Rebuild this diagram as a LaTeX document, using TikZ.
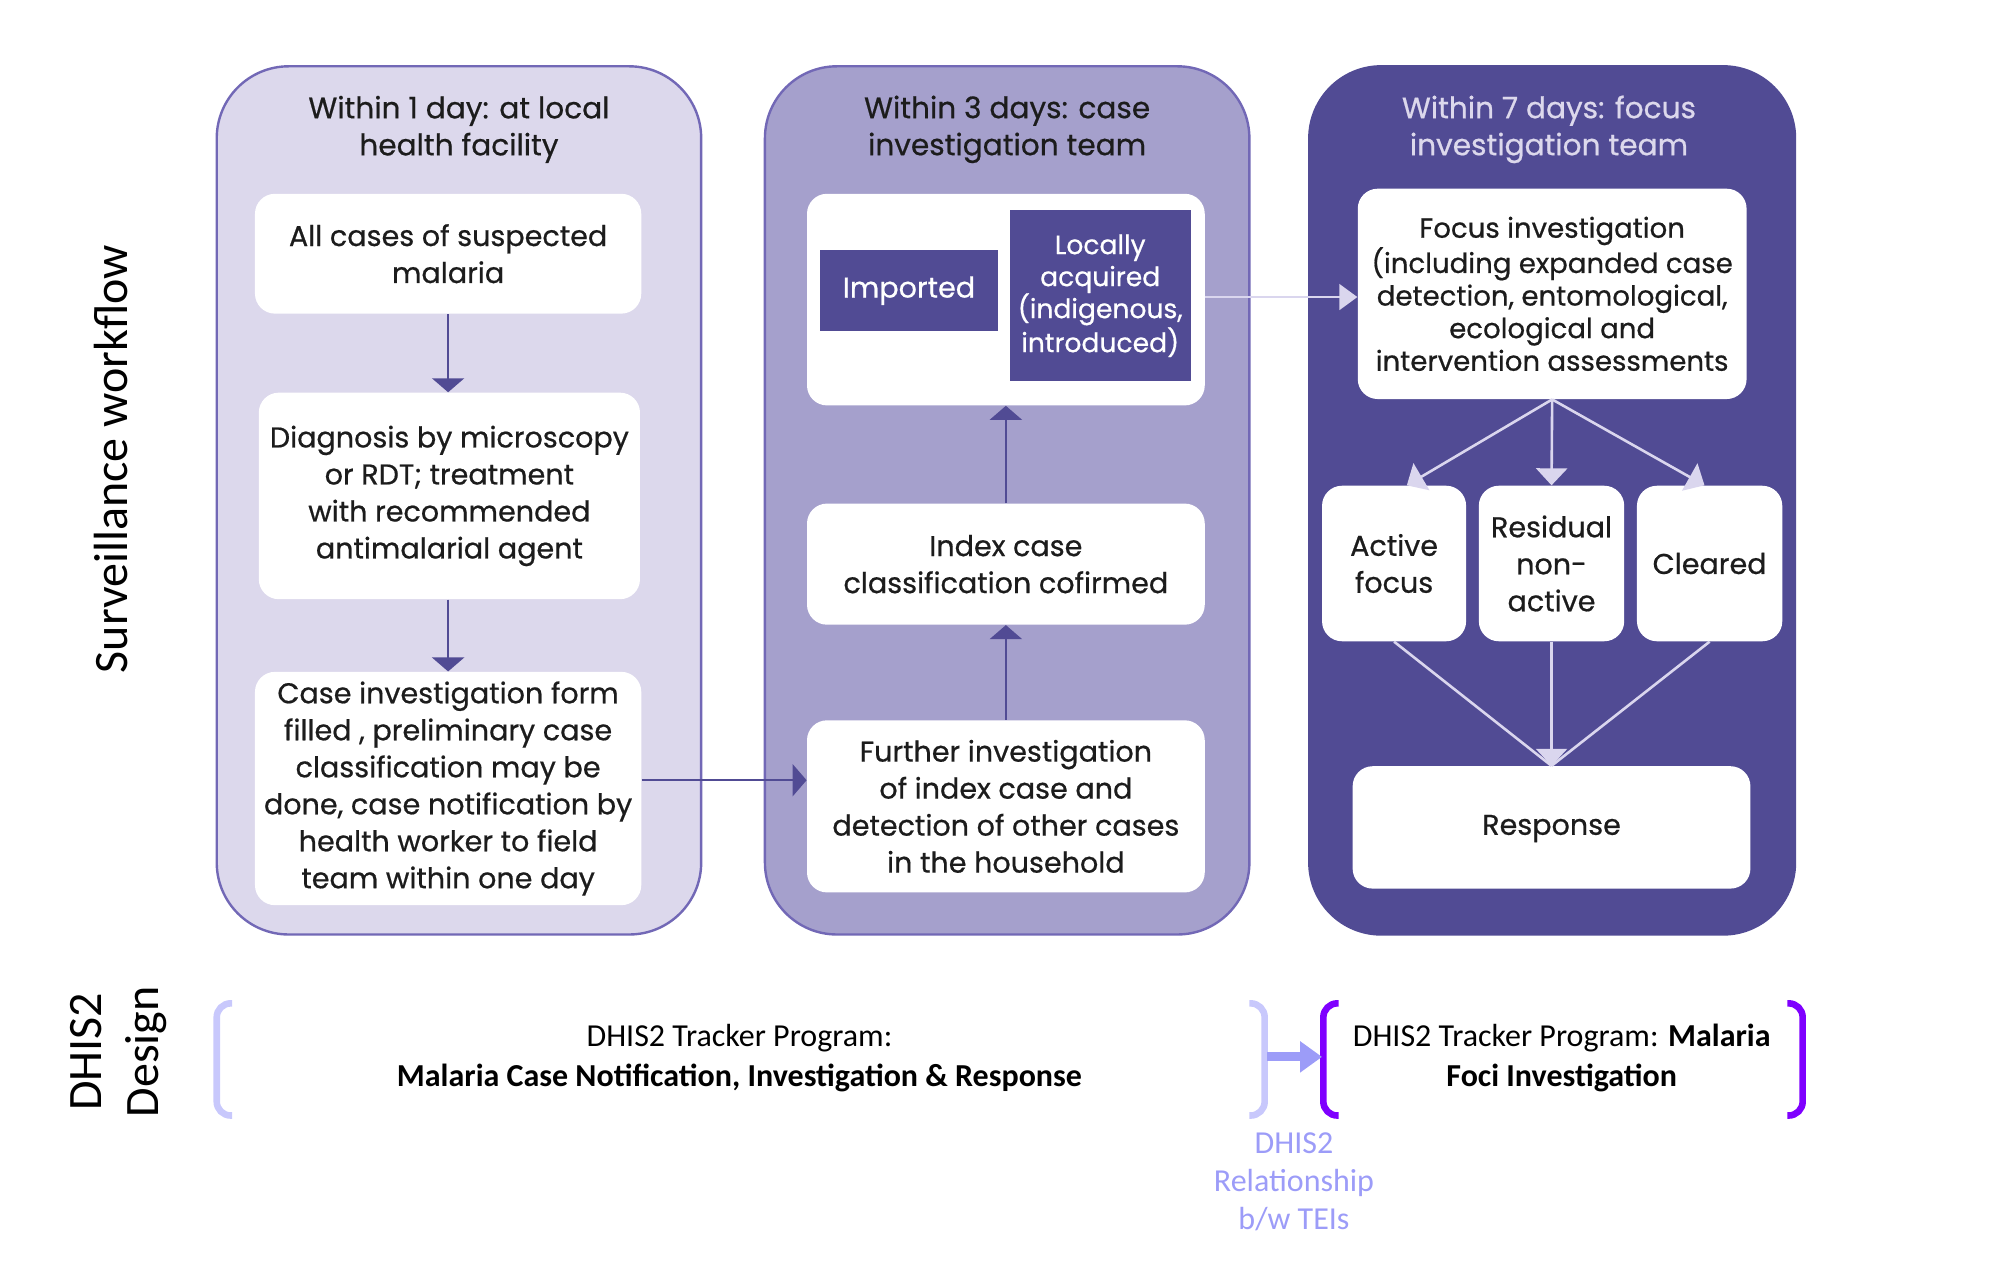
\documentclass[tikz,border=0pt]{standalone}
\usepackage{fontspec}
\setmainfont{Poppins}[FakeBold=0.6]
\newfontfamily\calfont{Carlito}
\usetikzlibrary{arrows.meta}

\def\upx{0.6375pt}
\definecolor{lav}{HTML}{DCD8EC}
\definecolor{midlav}{HTML}{A5A0CC}
\definecolor{deep}{HTML}{514B94}
\definecolor{edge}{HTML}{7268B6}
\definecolor{paleline}{HTML}{DAD6EE}
\definecolor{ink}{HTML}{1C1C1C}
\definecolor{bracketlight}{HTML}{C8C8FC}
\definecolor{bracketdeep}{HTML}{7F00FF}
\definecolor{relblue}{HTML}{9C9CF8}

\begin{document}
\begin{tikzpicture}[x=0.6375pt,y=-0.6375pt,
  panel/.style={rounded corners=36pt, line width=1.2pt, inner sep=0pt},
  ptitle/.style={align=center, inner sep=0pt, font=\fontsize{14.8}{18.5}\selectfont},
  wbox/.style={fill=white, rounded corners=10pt, align=center, text=ink,
    inner sep=0pt, font=\fontsize{14.3}{18.5}\selectfont},
  tag/.style={fill=deep, text=white, align=center, inner sep=0pt},
  flow/.style={draw=deep, line width=1.1pt, -{Triangle[length=7pt,width=16pt]}},
  pale/.style={draw=paleline, line width=1.3pt, -{Triangle[length=8.5pt,width=15.5pt]}},
  paleplain/.style={draw=paleline, line width=1.3pt},
  side/.style={rotate=90, align=center, inner sep=0pt, text=black,
    font=\calfont\fontsize{24}{28.7}\selectfont},
  prog/.style={align=center, inner sep=0pt, text=black,
    font=\calfont\fontsize{16}{19.8}\selectfont},
  bracket/.style={line width=3.3pt, rounded corners=7pt}
]
\useasboundingbox (0,0) rectangle (1568,991);

% ---- three time-frame panels ----
\node[panel, fill=lav, draw=edge, minimum width=380*\upx, minimum height=681*\upx] (p1) at (360,392.5) {};
\node[panel, fill=midlav, draw=edge, minimum width=380*\upx, minimum height=681*\upx] (p2) at (790,392.5) {};
\node[panel, fill=deep, draw=deep, minimum width=381*\upx, minimum height=681*\upx] (p3) at (1217.5,392.5) {};

\node[ptitle, text=ink] (t1) at (360,101.5) {Within 1 day: at local\\health facility};
\node[ptitle, text=ink] (t2) at (790,101.5) {Within 3 days: case\\investigation team};
\node[ptitle, text=lav] (t3) at (1215,101.5) {Within 7 days: focus\\investigation team};

% ---- local health facility ----
\node[wbox, minimum width=303*\upx, minimum height=94*\upx] (b1) at (351.5,199)
  {All cases of suspected\\malaria};
\node[wbox, minimum width=299*\upx, minimum height=162*\upx] (b2) at (352.5,389)
  {Diagnosis by microscopy\\or RDT; treatment\\ with recommended\\antimalarial agent};
\node[wbox, minimum width=303*\upx, minimum height=183*\upx] (b3) at (351.5,618.5)
  {Case investigation form\\filled , preliminary case\\classification may be\\done, case notification by\\health worker to field\\team within one day};

% ---- case investigation team ----
\node[wbox, minimum width=312*\upx, minimum height=166*\upx] (m1) at (789,235) {};
\node[tag, minimum width=140*\upx, minimum height=64*\upx, font=\fontsize{14.3}{18}\selectfont] (imp) at (713,228) {Imported};
\node[tag, minimum width=142*\upx, minimum height=134*\upx, font=\fontsize{13.3}{16}\selectfont] (loc) at (863,232)
  {Locally\\acquired\\(indigenous,\\introduced)};
\node[wbox, minimum width=312*\upx, minimum height=95*\upx] (m2) at (789,442.5)
  {Index case\\classification cofirmed};
\node[wbox, minimum width=312*\upx, minimum height=135*\upx] (m3) at (789,632.5)
  {Further investigation\\of index case and\\detection of other cases\\in the household};

% ---- focus investigation team ----
\node[wbox, minimum width=305*\upx, minimum height=165*\upx, font=\fontsize{13.8}{16.3}\selectfont] (f1) at (1217.5,230.5)
  {Focus investigation\\(including expanded case\\detection, entomological,\\ecological and\\intervention assessments};
\node[wbox, minimum width=113*\upx, minimum height=122*\upx] (a1) at (1093.5,442) {Active\\focus};
\node[wbox, minimum width=114*\upx, minimum height=122*\upx] (a2) at (1217,442) {Residual\\non-\\active};
\node[wbox, minimum width=114*\upx, minimum height=122*\upx] (a3) at (1341,442) {Cleared};
\node[wbox, minimum width=312*\upx, minimum height=96*\upx] (resp) at (1217,649) {Response\strut};

% ---- connectors ----
\coordinate (ya) at (0,612);
\coordinate (yb) at (0,233);
\draw[flow] (b1.south) -- (b1.south |- b2.north);
\draw[flow] (b1.south |- b2.south) -- (b1.south |- b3.north);
\draw[flow] (b3.east |- ya) -- (m3.west |- ya);
\draw[flow] (m3.north) -- (m2.south);
\draw[flow] (m2.north) -- (m1.south);
\draw[draw=paleline, line width=0.8pt, -{Triangle[length=9pt,width=13pt]}] (m1.east |- yb) -- (f1.west |- yb);
\draw[pale] (f1.south) -- ([xshift=10*\upx]a1.north);
\draw[pale] (f1.south) -- (a2.north);
\draw[pale] (f1.south) -- ([xshift=-4*\upx]a3.north);
\draw[paleplain] (a1.south) -- (resp.north);
\draw[paleplain] (a3.south) -- (resp.north);
\draw[pale] (a2.south) -- (resp.north);

% ---- row labels ----
\node[side] (sw) at (87,360) {Surveillance workflow};
\node[side] (dd) at (93,825) {DHIS2\\Design};

% ---- DHIS2 design row ----
\draw[bracket, draw=bracketlight] (182,787) -- (170,787) -- (170,875) -- (182,875);
\draw[bracket, draw=bracketlight] (980,787) -- (992,787) -- (992,875) -- (980,875);
\draw[bracket, draw=bracketdeep] (1050,787) -- (1038,787) -- (1038,875) -- (1050,875);
\draw[bracket, draw=bracketdeep] (1402,787) -- (1414,787) -- (1414,875) -- (1402,875);
\coordinate (rl) at (994,829);
\coordinate (rr) at (1037,829);
\draw[draw=relblue, line width=4.5pt, -{Triangle[length=11pt,width=15pt]}] (rl) -- (rr);

\node[prog] (case) at (580,830) {DHIS2 Tracker Program:\\\textbf{Malaria Case Notification, Investigation \& Response}};
\node[prog] (foci) at (1225,830) {DHIS2 Tracker Program: \textbf{Malaria}\\\textbf{Foci Investigation}};
\node[prog, text=relblue, font=\calfont\fontsize{16}{19}\selectfont] (rel) at (1015,927) {DHIS2\\Relationship\\b/w TEIs};
\end{tikzpicture}
\end{document}
